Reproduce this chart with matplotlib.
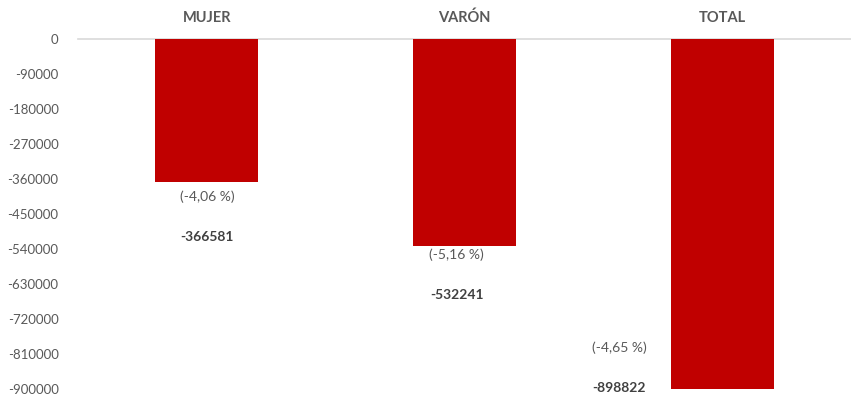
import matplotlib.pyplot as plt

categories = ["MUJER", "VARÓN", "TOTAL"]
values = [-366581, -532241, -898822]
pct_labels = ["(-4,06 %)", "(-5,16 %)", "(-4,65 %)"]
value_labels = ["-366581", "-532241", "-898822"]
yticks = [0, -90000, -180000, -270000, -360000, -450000, -540000,
          -630000, -720000, -810000, -900000]

# label placement (manual, like the original data labels)
label_dx = [0.0, -0.03, -0.40]
pct_y = [-406000, -555000, -794500]
val_y = [-509000, -658000, -897500]

plt.rcParams['font.family'] = ['Lato', 'DejaVu Sans']
gray = "#595959"

fig = plt.figure(figsize=(8.51, 4.05), dpi=100)
ax = fig.add_axes([0.0917, 0.0395, 0.9083, 0.8642])

x = list(range(len(categories)))
ax.bar(x, values, width=0.4, color="#c00000", zorder=2)

ax.set_xlim(-0.5, len(categories) - 0.5)
ax.set_ylim(-900000, 0)
ax.set_yticks(yticks)
ax.set_yticklabels([str(t) for t in yticks])
ax.tick_params(axis='y', length=0, colors=gray, labelsize=9.5, pad=14)
ax.tick_params(axis='x', length=0, top=False, bottom=False,
               labeltop=True, labelbottom=False, colors=gray, labelsize=10.5, pad=10)
ax.set_xticks(x)
ax.set_xticklabels(categories, fontweight='bold')

for s in ['left', 'right', 'bottom']:
    ax.spines[s].set_visible(False)
ax.spines['top'].set_color("#d9d9d9")
ax.spines['top'].set_linewidth(1.2)
ax.spines['top'].set_zorder(1)

for i in x:
    ax.text(i + label_dx[i], pct_y[i], pct_labels[i], ha='center', va='center',
            color=gray, fontsize=10)
    ax.text(i + label_dx[i], val_y[i], value_labels[i], ha='center', va='center',
            color="#404040", fontsize=10, fontweight='bold')

fig.savefig("out.png", dpi=100)
